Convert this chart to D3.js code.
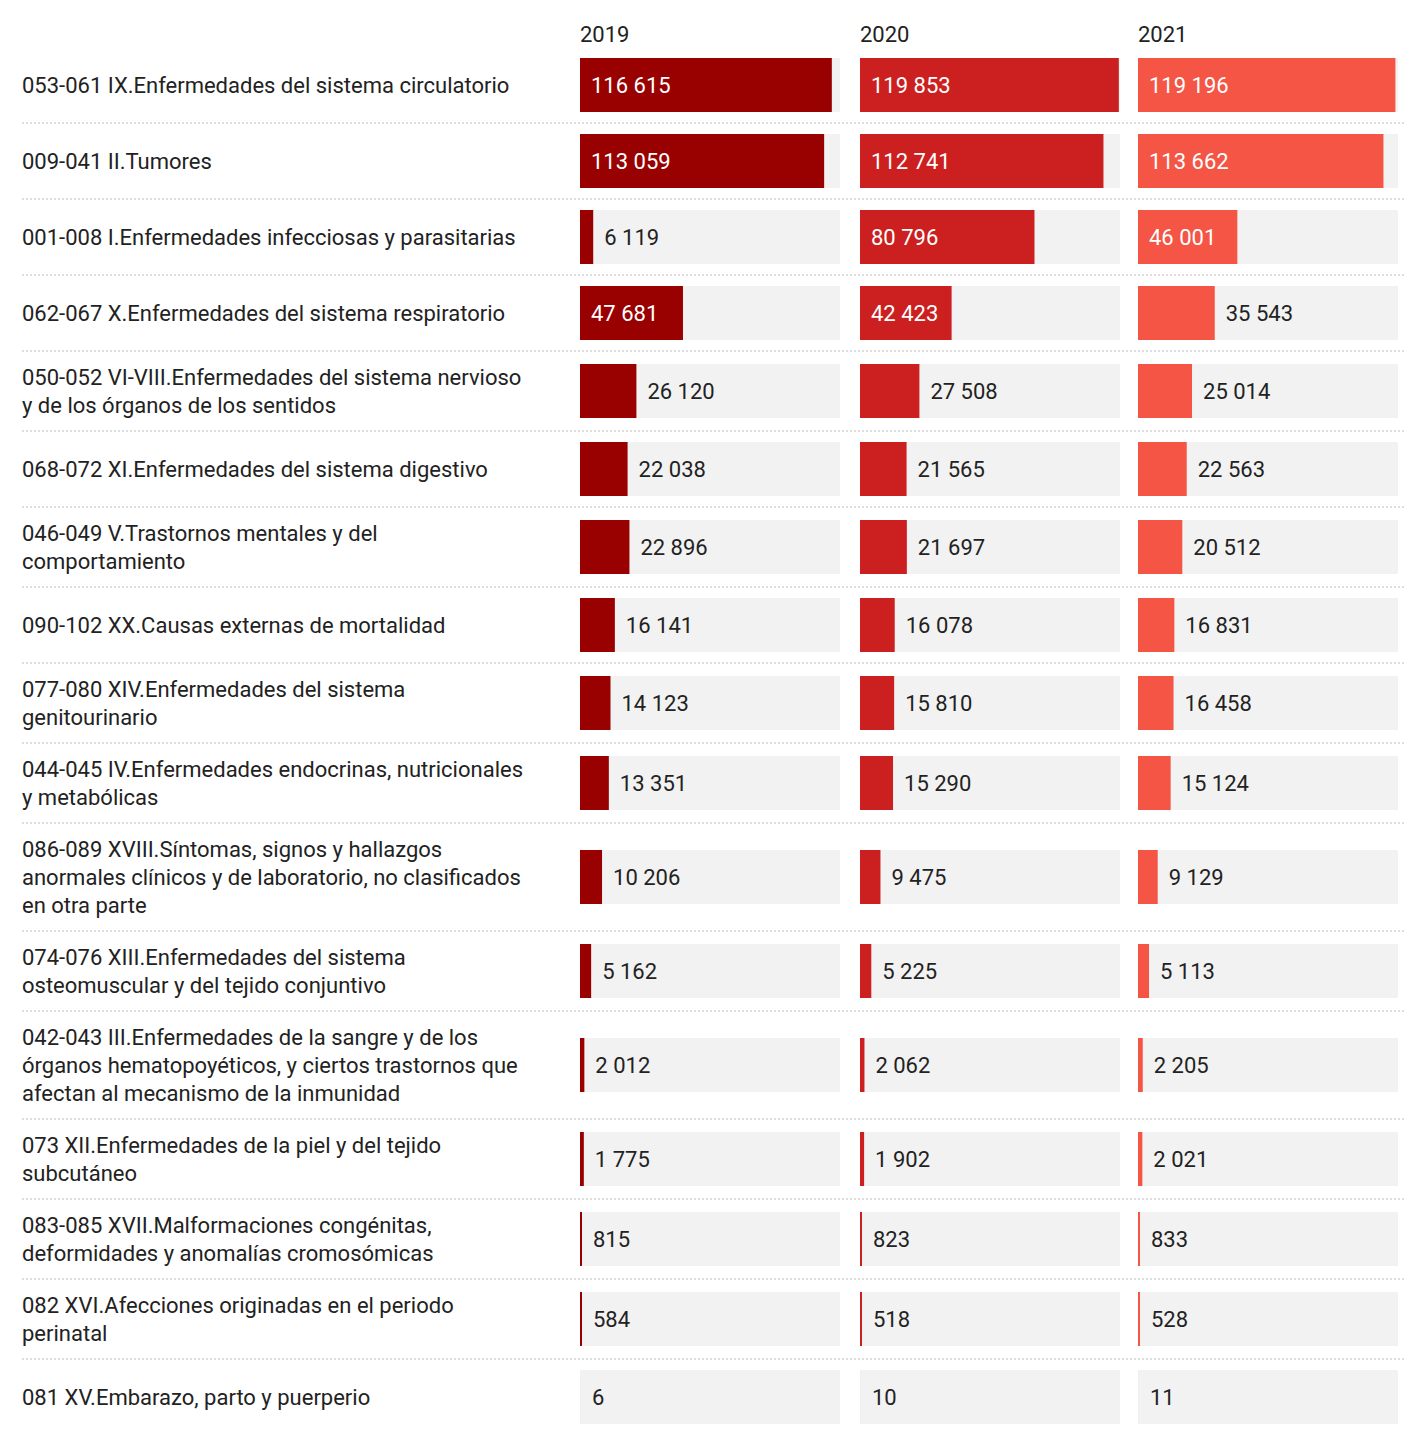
<!DOCTYPE html>
<html><head><meta charset="utf-8">
<script src="https://cdn.jsdelivr.net/npm/d3@7"></script>
<style>body{margin:0;background:#fff;font-family:Roboto,sans-serif}</style>
</head><body><svg id="c" width="1428" height="1442"></svg>
<script>
const years = ["2019", "2020", "2021"];
const categories = [
  ["053-061 IX.Enfermedades del sistema circulatorio"],
  ["009-041 II.Tumores"],
  ["001-008 I.Enfermedades infecciosas y parasitarias"],
  ["062-067 X.Enfermedades del sistema respiratorio"],
  ["050-052 VI-VIII.Enfermedades del sistema nervioso", "y de los órganos de los sentidos"],
  ["068-072 XI.Enfermedades del sistema digestivo"],
  ["046-049 V.Trastornos mentales y del", "comportamiento"],
  ["090-102 XX.Causas externas de mortalidad"],
  ["077-080 XIV.Enfermedades del sistema", "genitourinario"],
  ["044-045 IV.Enfermedades endocrinas, nutricionales", "y metabólicas"],
  ["086-089 XVIII.Síntomas, signos y hallazgos", "anormales clínicos y de laboratorio, no clasificados", "en otra parte"],
  ["074-076 XIII.Enfermedades del sistema", "osteomuscular y del tejido conjuntivo"],
  ["042-043 III.Enfermedades de la sangre y de los", "órganos hematopoyéticos, y ciertos trastornos que", "afectan al mecanismo de la inmunidad"],
  ["073 XII.Enfermedades de la piel y del tejido", "subcutáneo"],
  ["083-085 XVII.Malformaciones congénitas,", "deformidades y anomalías cromosómicas"],
  ["082 XVI.Afecciones originadas en el periodo", "perinatal"],
  ["081 XV.Embarazo, parto y puerperio"]
];
const v2019 = [116615, 113059, 6119, 47681, 26120, 22038, 22896, 16141, 14123, 13351, 10206, 5162, 2012, 1775, 815, 584, 6];
const v2020 = [119853, 112741, 80796, 42423, 27508, 21565, 21697, 16078, 15810, 15290, 9475, 5225, 2062, 1902, 823, 518, 10];
const v2021 = [119196, 113662, 46001, 35543, 25014, 22563, 20512, 16831, 16458, 15124, 9129, 5113, 2205, 2021, 833, 528, 11];
const series = [v2019, v2020, v2021];
const colors = ["#990000", "#cc1f1f", "#f45545"];

const svg = d3.select("#c");
const colX = [580, 860, 1138], colW = 260, barH = 54;
const x = d3.scaleLinear().domain([0, 120400]).range([0, colW]);
const fmt = v => d3.format(",")(v).replace(/,/g, " ");

years.forEach((y, i) => svg.append("text").attr("x", colX[i]).attr("y", 42)
  .attr("font-size", 22).attr("fill", "#222").text(y));

let rowTop = 47;
categories.forEach((lines, r) => {
  const h = Math.max(76, lines.length * 28 + 24);
  const cy = rowTop + h / 2;
  const g = svg.append("g");
  const t = g.append("text").attr("font-size", 22).attr("fill", "#222");
  lines.forEach((l, k) => t.append("tspan").attr("x", 22)
    .attr("y", cy + (k - (lines.length - 1) / 2) * 28 + 8).text(l));
  series.forEach((s, i) => {
    const v = s[r], bx = colX[i], by = cy - barH / 2;
    g.append("rect").attr("x", bx).attr("y", by).attr("width", colW).attr("height", barH).attr("fill", "#f2f2f2");
    const w = v >= 100 ? Math.max(x(v), 2) : x(v);
    g.append("rect").attr("x", bx).attr("y", by).attr("width", w).attr("height", barH).attr("fill", colors[i]);
    const lab = g.append("text").attr("y", cy + 8).attr("font-size", 22).text(fmt(v));
    const tw = lab.node().getComputedTextLength();
    if (w > tw + 20) lab.attr("x", bx + 11).attr("fill", "#fff");
    else lab.attr("x", bx + Math.max(w, 1) + 11).attr("fill", "#222");
  });
  rowTop += h;
  if (r < categories.length - 1)
    svg.append("line").attr("x1", 22).attr("x2", 1406).attr("y1", rowTop).attr("y2", rowTop)
      .attr("stroke", "#bbb").attr("stroke-dasharray", "2,2");
});
</script></body></html>
